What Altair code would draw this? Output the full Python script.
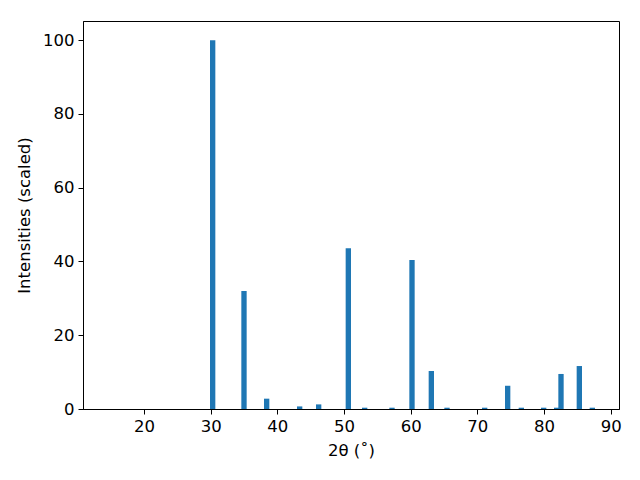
import altair as alt
import pandas as pd

angles = [30.3, 35.0, 38.4, 43.35, 46.2, 50.65, 53.1, 57.2, 60.2, 63.1,
          65.45, 71.1, 74.55, 76.6, 79.95, 81.9, 82.55, 85.3, 87.25]
intensities = [100, 32.0, 2.8, 0.7, 1.25, 43.6, 0.35, 0.35, 40.4, 10.3,
               0.35, 0.35, 6.3, 0.35, 0.35, 0.35, 9.5, 11.65, 0.35]
x_ticks = [20, 30, 40, 50, 60, 70, 80, 90]
y_ticks = [0, 20, 40, 60, 80, 100]
bar_width = 0.8

df = pd.DataFrame({"angle": angles, "intensity": intensities})

chart = (
    alt.Chart(df)
    .transform_calculate(
        x0=f"datum.angle - {bar_width / 2}",
        x1=f"datum.angle + {bar_width / 2}",
    )
    .mark_bar(color="#1f77b4", clip=True)
    .encode(
        x=alt.X("x0:Q",
                scale=alt.Scale(domain=[10.85, 91.25], nice=False, zero=False),
                axis=alt.Axis(values=x_ticks, title="2θ (˚)", grid=False)),
        x2="x1:Q",
        y=alt.Y("intensity:Q",
                scale=alt.Scale(domain=[0, 105.2], nice=False),
                axis=alt.Axis(values=y_ticks, title="Intensities (scaled)",
                              grid=False)),
        y2=alt.datum(0),
    )
    .properties(
        width=536,
        height=388,
        autosize=alt.AutoSizeParams(type="none"),
        padding={"left": 75, "top": 13, "right": 13, "bottom": 63},
    )
    .configure_view(stroke="black", strokeWidth=1)
    .configure_axis(
        domainColor="black",
        domainWidth=1,
        tickColor="black",
        tickSize=5,
        tickWidth=1,
        labelFont="DejaVu Sans",
        labelFontSize=16.5,
        labelColor="black",
        labelPadding=4,
        titleFont="DejaVu Sans",
        titleFontSize=16.5,
        titleFontWeight="normal",
        titleColor="black",
    )
    .configure_axisX(titlePadding=8)
    .configure_axisY(titlePadding=10)
)

chart.save("out.html", embed_options={"renderer": "svg", "actions": False})
